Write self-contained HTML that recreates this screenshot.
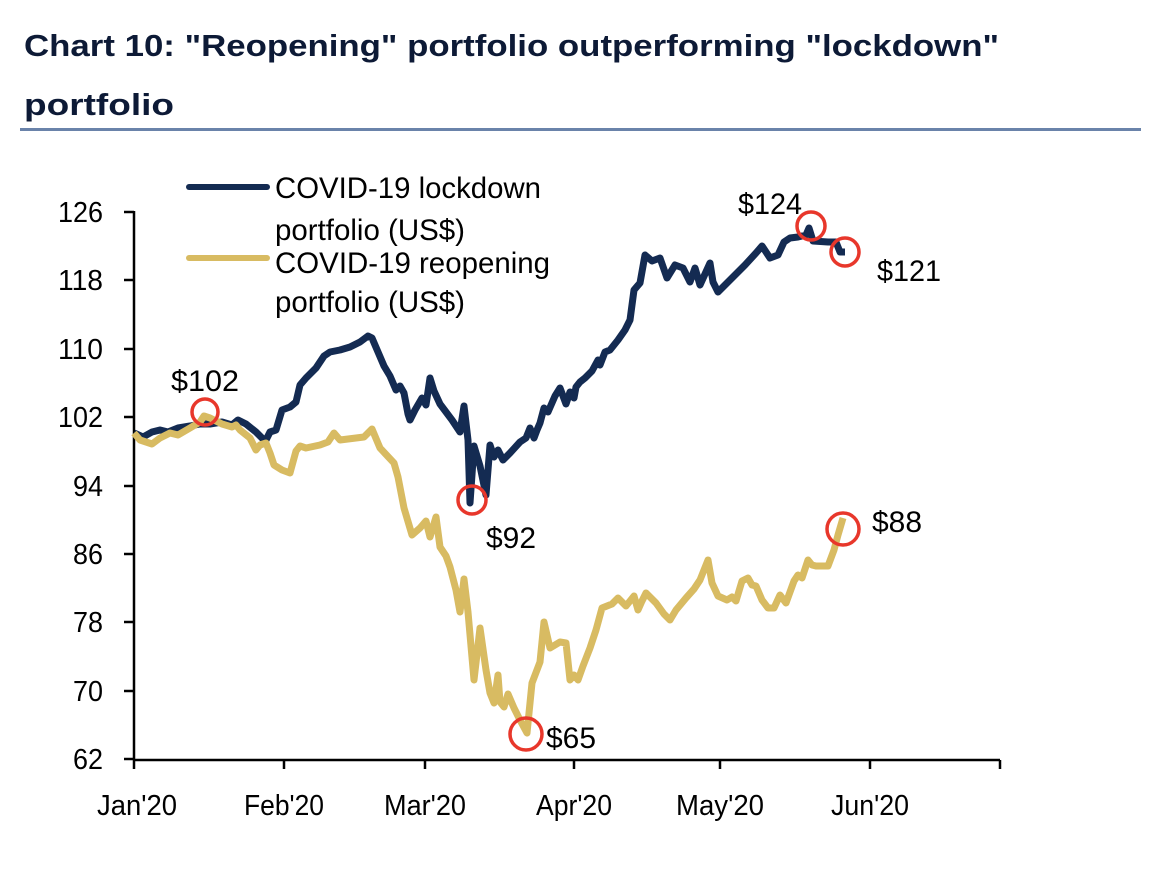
<!DOCTYPE html>
<html><head><meta charset="utf-8"><style>
html,body{margin:0;padding:0;background:#fff;}
svg{display:block;}
</style></head><body>
<svg width="1160" height="896" viewBox="0 0 1160 896" xmlns="http://www.w3.org/2000/svg">
<g font-family="Liberation Sans, sans-serif" font-weight="bold" fill="#0d1a36" font-size="31">
<text x="24" y="56" textLength="975" lengthAdjust="spacingAndGlyphs">Chart 10: "Reopening" portfolio outperforming "lockdown"</text>
<text x="24" y="115" textLength="150" lengthAdjust="spacingAndGlyphs">portfolio</text>
</g>
<rect x="20" y="128" width="1121" height="3" fill="#6a83aa"/>
<g stroke="#000" stroke-width="2.5" fill="none">
<line x1="134" y1="211" x2="134" y2="760"/>
<line x1="133" y1="760" x2="1000" y2="760"/>
<line x1="124" y1="212" x2="134" y2="212"/>
<line x1="124" y1="280" x2="134" y2="280"/>
<line x1="124" y1="349" x2="134" y2="349"/>
<line x1="124" y1="417" x2="134" y2="417"/>
<line x1="124" y1="486" x2="134" y2="486"/>
<line x1="124" y1="554" x2="134" y2="554"/>
<line x1="124" y1="622" x2="134" y2="622"/>
<line x1="124" y1="691" x2="134" y2="691"/>
<line x1="124" y1="759" x2="134" y2="759"/>
<line x1="134" y1="760" x2="134" y2="769"/>
<line x1="284" y1="760" x2="284" y2="769"/>
<line x1="425" y1="760" x2="425" y2="769"/>
<line x1="574" y1="760" x2="574" y2="769"/>
<line x1="720" y1="760" x2="720" y2="769"/>
<line x1="870" y1="760" x2="870" y2="769"/>
<line x1="1000" y1="760" x2="1000" y2="769"/>
</g>
<g font-family="Liberation Sans, sans-serif" font-size="29" fill="#000" text-anchor="end">
<text x="103" y="222" textLength="45" lengthAdjust="spacingAndGlyphs">126</text>
<text x="103" y="290" textLength="45" lengthAdjust="spacingAndGlyphs">118</text>
<text x="103" y="359" textLength="45" lengthAdjust="spacingAndGlyphs">110</text>
<text x="103" y="427" textLength="45" lengthAdjust="spacingAndGlyphs">102</text>
<text x="103" y="496" textLength="30" lengthAdjust="spacingAndGlyphs">94</text>
<text x="103" y="564" textLength="30" lengthAdjust="spacingAndGlyphs">86</text>
<text x="103" y="632" textLength="30" lengthAdjust="spacingAndGlyphs">78</text>
<text x="103" y="701" textLength="30" lengthAdjust="spacingAndGlyphs">70</text>
<text x="103" y="769" textLength="30" lengthAdjust="spacingAndGlyphs">62</text>
</g>
<g font-family="Liberation Sans, sans-serif" font-size="29" fill="#000" text-anchor="middle">
<text x="137" y="815" textLength="80" lengthAdjust="spacingAndGlyphs">Jan'20</text>
<text x="284" y="815" textLength="80" lengthAdjust="spacingAndGlyphs">Feb'20</text>
<text x="425" y="815" textLength="82" lengthAdjust="spacingAndGlyphs">Mar'20</text>
<text x="574" y="815" textLength="76" lengthAdjust="spacingAndGlyphs">Apr'20</text>
<text x="720" y="815" textLength="88" lengthAdjust="spacingAndGlyphs">May'20</text>
<text x="870" y="815" textLength="78" lengthAdjust="spacingAndGlyphs">Jun'20</text>
</g>
<g font-family="Liberation Sans, sans-serif" font-size="30" fill="#000">
<line x1="189" y1="187" x2="267" y2="187" stroke="#142b52" stroke-width="6" stroke-linecap="round"/>
<line x1="189" y1="258" x2="267" y2="258" stroke="#d8bb62" stroke-width="6" stroke-linecap="round"/>
<text x="275" y="198" textLength="266" lengthAdjust="spacingAndGlyphs">COVID-19 lockdown</text>
<text x="275" y="240" textLength="190" lengthAdjust="spacingAndGlyphs">portfolio (US$)</text>
<text x="275" y="273" textLength="275" lengthAdjust="spacingAndGlyphs">COVID-19 reopening</text>
<text x="275" y="312" textLength="190" lengthAdjust="spacingAndGlyphs">portfolio (US$)</text>
</g>
<polyline fill="none" stroke="#142b52" stroke-width="7" stroke-linejoin="round" points="134,433 143,437 152,432 160,430 168,432 178,428 190,426 200,424 210,424 222,422 232,425 238,420 246,424 256,432 262,438 266,440 270,432 276,430 282,410 290,407 296,402 300,385 306,378 316,368 324,356 330,352 340,350 350,347 360,342 368,336 372,338 378,352 384,366 390,376 396,390 400,386 404,393 408,414 410,420 415,410 422,398 426,405 430,378 434,391 440,404 446,412 452,420 460,432 464,406 468,440 470,503 474,446 480,466 486,495 490,445 494,457 498,450 503,460 510,453 520,442 526,438 530,428 534,438 537,430 540,423 544,408 548,412 555,396 560,388 566,404 570,392 574,398 576,387 580,382 585,378 592,371 598,360 600,365 605,352 610,350 618,340 625,330 630,320 634,290 640,283 645,255 652,261 660,258 667,278 675,265 683,268 690,282 695,268 700,285 710,263 713,282 718,292 730,280 745,265 756,253 762,246 770,258 778,255 784,242 790,238 798,237 806,235 809,228 813,241 828,242 836,242 840,252 845,252"/>
<polyline fill="none" stroke="#d8bb62" stroke-width="7" stroke-linejoin="round" points="134,433 140,440 152,444 160,438 170,433 178,435 190,428 200,422 204,416 210,418 222,424 232,427 236,425 240,430 250,438 256,450 260,445 266,443 270,453 274,465 282,470 290,473 296,451 300,446 306,448 320,445 328,442 334,433 340,440 356,438 364,437 372,429 380,448 394,463 398,477 404,508 412,535 420,528 426,521 430,537 436,517 440,547 446,556 450,567 456,590 460,612 464,579 468,612 474,680 480,628 486,670 490,693 494,703 498,675 500,702 504,707 508,694 514,708 520,720 527,733 532,683 540,662 544,622 550,648 560,642 566,643 570,680 574,675 578,680 583,666 590,648 596,630 602,608 612,604 618,598 626,606 634,596 638,610 642,601 646,593 656,603 664,614 670,620 676,610 686,598 694,589 700,580 708,560 712,583 718,596 727,600 732,597 736,601 742,581 748,578 752,585 756,586 762,600 768,608 774,608 780,595 786,603 794,581 798,575 802,578 808,560 812,565 816,566 828,566 834,550 838,535 843,518"/>
<g fill="none" stroke="#e8372b" stroke-width="3.5">
<circle cx="205" cy="412" r="13"/>
<circle cx="472" cy="500" r="14"/>
<circle cx="526" cy="734" r="16"/>
<circle cx="811" cy="226" r="14"/>
<circle cx="845" cy="252" r="14"/>
<circle cx="843" cy="529" r="16"/>
</g>
<g font-family="Liberation Sans, sans-serif" font-size="30" fill="#000">
<text x="171" y="391" textLength="68" lengthAdjust="spacingAndGlyphs">$102</text>
<text x="486" y="548" textLength="50" lengthAdjust="spacingAndGlyphs">$92</text>
<text x="546" y="748" textLength="50" lengthAdjust="spacingAndGlyphs">$65</text>
<text x="738" y="214" textLength="64" lengthAdjust="spacingAndGlyphs">$124</text>
<text x="877" y="281" textLength="64" lengthAdjust="spacingAndGlyphs">$121</text>
<text x="872" y="532" textLength="50" lengthAdjust="spacingAndGlyphs">$88</text>
</g>
</svg>
</body></html>
